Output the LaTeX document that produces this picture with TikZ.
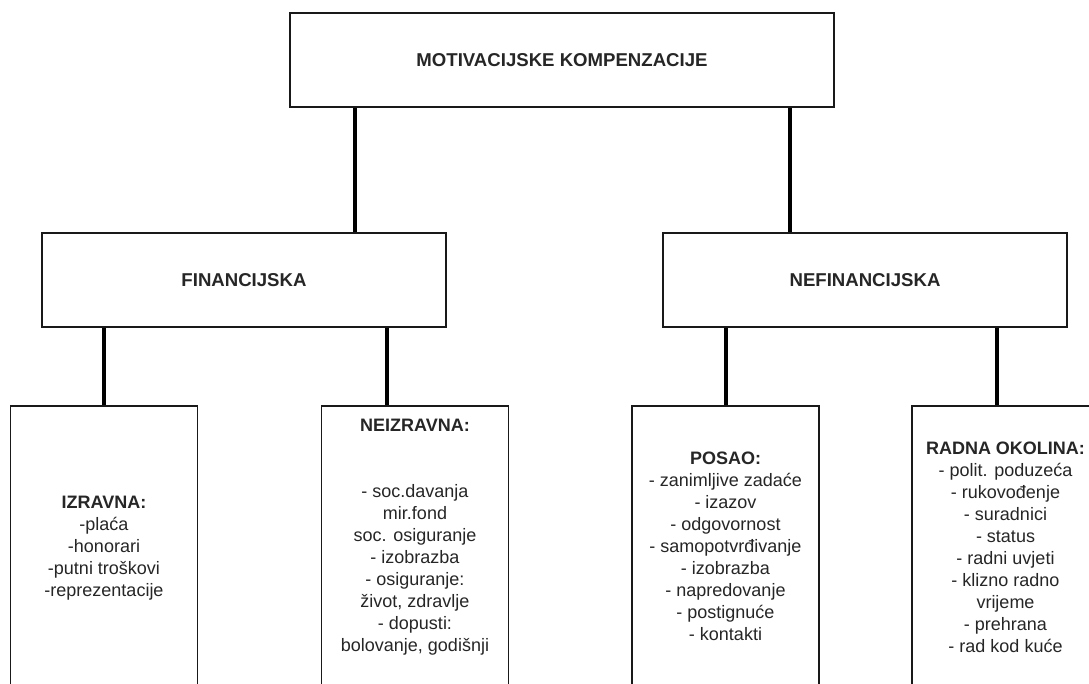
\documentclass[tikz,border=0pt]{standalone}
\usepackage{fontspec}
\setmainfont{Liberation Sans}
\usetikzlibrary{positioning}

\tikzset{
  box/.style={draw=black!90, line width=1.2pt, fill=white, align=center,
    text=black!85, inner sep=0pt},
  headbox/.style={box, minimum width=#1, minimum height=94pt,
    font=\fontsize{18.6}{22}\selectfont\bfseries},
  listbox/.style={box, minimum width=187pt, minimum height=#1,
    font=\fontsize{18}{22}\selectfont},
  link/.style={line width=4.5pt, black}
}

\begin{document}
\begin{tikzpicture}[x=1pt, y=-1pt]
		\clip (0,0) rectangle (1089,684);
		\fill[white] (0,0) rectangle (1089,684);
		
		%Ebene 1
		\node[headbox=544pt] (motiv) at (562,60) {MOTIVACIJSKE KOMPENZACIJE};
		
		%Ebene 2
		\node[headbox=404pt] (fin) at (244,280) {FINANCIJSKA};
		\node[headbox=404pt] (nefin) at (865,280) {NEFINANCIJSKA};
		
		%Ebene 3 (Oberkante bei 406)
		\node[listbox=284pt] (izr) at (104,548) {\textbf{IZRAVNA:}\\ -plaća\\ -honorari\\ -putni troškovi\\ -reprezentacije};
		\node[listbox=288pt] (neizr) at (415,550) {\textbf{NEIZRAVNA:}\\ \strut\\ \strut\\ - soc.davanja\\ mir.fond\\ soc. osiguranje\\ - izobrazba\\ - osiguranje:\\ život, zdravlje\\ - dopusti:\\ bolovanje, godišnji\\ \strut};
		\node[listbox=280pt] (posao) at (725.5,546) {\textbf{POSAO:}\\ - zanimljive zadaće\\ - izazov\\ - odgovornost\\ - samopotvrđivanje\\ - izobrazba\\ - napredovanje\\ - postignuće\\ - kontakti};
		\node[listbox=282pt] (radna) at (1005.5,547) {\textbf{RADNA OKOLINA:}\\ - polit. poduzeća\\ - rukovođenje\\ - suradnici\\ - status\\ - radni uvjeti\\ - klizno radno\\ vrijeme\\ - prehrana\\ - rad kod kuće};
		
		%Verbindungen
		\foreach \p/\c/\x in {motiv/fin/355, motiv/nefin/790, fin/izr/104, fin/neizr/387, nefin/posao/726, nefin/radna/997} {
			\draw[link] (\p.south -| \x,0) -- (\c.north -| \x,0);
		}
	\end{tikzpicture}
\end{document}
